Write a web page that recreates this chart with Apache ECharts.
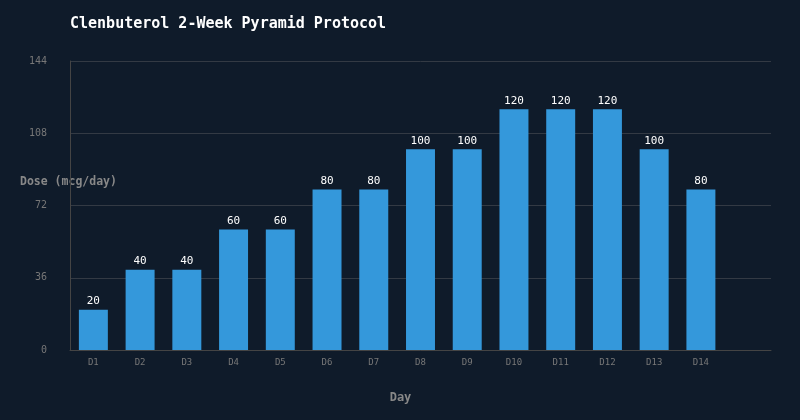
<!DOCTYPE html>
<html>
<head>
<meta charset="utf-8">
<script src="https://cdn.jsdelivr.net/npm/echarts@6/dist/echarts.min.js"></script>
<style>
  html, body { margin: 0; padding: 0; background: #0f1b2a; }
  #chart { width: 800px; height: 420px; }
</style>
</head>
<body>
<div id="chart"></div>
<script>
// protocol data
const days = ["D1", "D2", "D3", "D4", "D5", "D6", "D7", "D8", "D9", "D10", "D11", "D12", "D13", "D14"];
const doses = [20, 40, 40, 60, 60, 80, 80, 100, 100, 120, 120, 120, 100, 80];
const yTicks = [0, 36, 72, 108, 144];

const mono = "'DejaVu Sans Mono', monospace";

// one empty slot at the end, like the reference
const cats = days.concat([""]);

const myChart = echarts.init(document.getElementById("chart"));
const option = {
  backgroundColor: "#0f1b2a",
  textStyle: { fontFamily: mono },
  title: {
    text: "Clenbuterol 2-Week Pyramid Protocol",
    left: 65,
    top: 12,
    textStyle: { color: "#ffffff", fontSize: 15, fontWeight: "bold", fontFamily: mono },
  },
  // y axis title sits above the middle of the axis, so drawn as plain text
  graphic: [
    {
      type: "text",
      left: 20,
      top: 176,
      style: {
        text: "Dose (mcg/day)",
        fill: "#888888",
        font: "bold 11.5px " + mono,
      },
    },
  ],
  grid: { left: 70, right: 29, top: 61, bottom: 70, containLabel: false, outerBoundsMode: "none" },
  xAxis: {
    type: "category",
    data: cats,
    name: "Day",
    nameLocation: "middle",
    nameGap: 42,
    nameMoveOverlap: false,
    nameTextStyle: { color: "#888888", fontSize: 12, fontWeight: "bold", fontFamily: mono, padding: [0, 40, 0, 0] },
    axisLine: { lineStyle: { color: "#444444" } },
    axisTick: { show: false },
    axisLabel: { color: "#777777", fontSize: 9, fontFamily: mono, margin: 8 },
  },
  yAxis: {
    type: "value",
    min: yTicks[0],
    max: yTicks[yTicks.length - 1],
    interval: yTicks[1] - yTicks[0],
    axisLine: { show: true, lineStyle: { color: "#444444" } },
    axisTick: { show: false },
    axisLabel: { color: "#777777", fontSize: 10, fontFamily: mono, margin: 23 },
    splitLine: { lineStyle: { color: "#333a44" } },
  },
  series: [
    {
      type: "bar",
      data: doses,
      barWidth: "62%",
      itemStyle: { color: "#3498db" },
      label: { show: true, position: "top", color: "#ffffff", fontSize: 11, fontFamily: mono, distance: 3 },
    },
  ],
};
myChart.setOption(option);
</script>
</body>
</html>
